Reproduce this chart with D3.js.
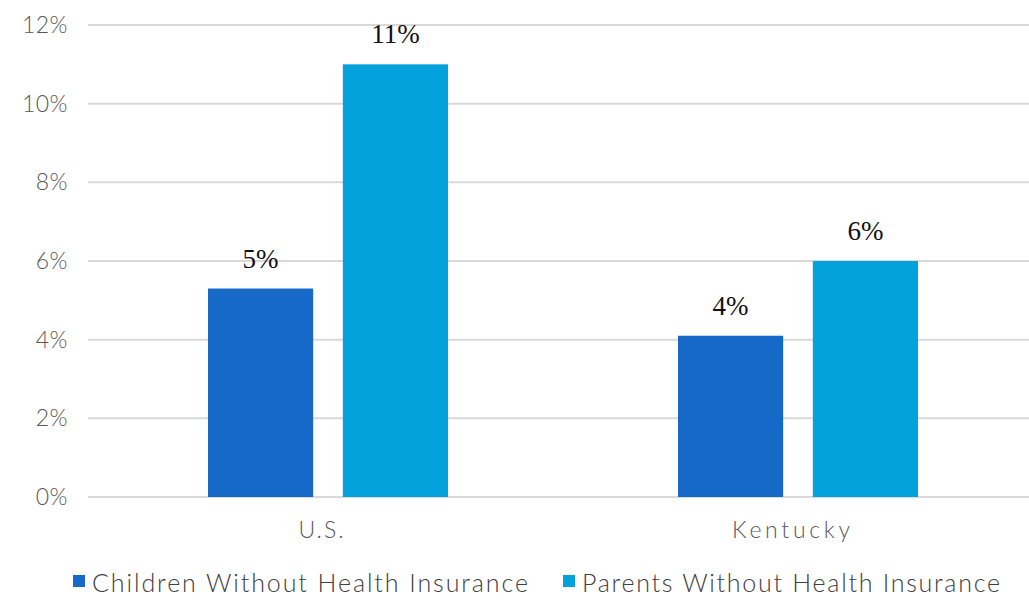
<!DOCTYPE html>
<html><head><meta charset="utf-8">
<script src="https://cdn.jsdelivr.net/npm/d3@7"></script>
<style>body{margin:0;background:#fff}</style>
</head><body>
<svg id="c" width="1029" height="605"></svg>
<script>
const categories = ["U.S.", "Kentucky"];
const seriesNames = ["Children Without Health Insurance", "Parents Without Health Insurance"];
const children = [5.3, 4.1];
const parents = [11.0, 6.0];
const childrenLabels = ["5%", "4%"];
const parentsLabels = ["11%", "6%"];
const yTicks = [0, 2, 4, 6, 8, 10, 12];
const colors = ["#1769c8", "#03a2dc"];

const svg = d3.select("#c");
const m = {l: 93, r: -4, t: 25, b: 108};
const W = 1029, H = 605;
const x0 = d3.scaleBand().domain(categories).range([m.l, W - m.r]).paddingInner(0).paddingOuter(0);
const x1 = d3.scaleBand().domain([0,1]).range([115, 355]).paddingInner(0.22);
const y = d3.scaleLinear().domain([0, 12]).range([H - m.b, m.t]);

const axisFont = "Lato, 'Open Sans', sans-serif";
// gridlines
svg.append("g").selectAll("line").data(yTicks).join("line")
  .attr("x1", 88).attr("x2", W).attr("y1", d => y(d)).attr("y2", d => y(d))
  .attr("stroke", "#d9d9d9").attr("stroke-width", 2);
// y labels
const yAxis = d3.axisLeft(y).tickValues(yTicks).tickFormat(d => d + "%").tickSize(0).tickPadding(0);
const ga = svg.append("g").attr("transform", "translate(68,0)").call(yAxis);
ga.select(".domain").remove();
ga.selectAll("text").attr("font-family", axisFont).attr("font-size", 23).attr("fill", "#595959")
  .attr("font-weight", 300).attr("letter-spacing", 0.5);

const data = categories.map((c, i) => ({c, vals: [children[i], parents[i]], labs: [childrenLabels[i], parentsLabels[i]]}));
const catLen = [45, 118];
const g = svg.append("g");
data.forEach((d, i) => {
  const gx = x0(d.c);
  d.vals.forEach((v, j) => {
    g.append("rect").attr("x", gx + x1(j)).attr("width", x1.bandwidth())
      .attr("y", y(v)).attr("height", y(0) - y(v)).attr("fill", colors[j]);
    g.append("text").attr("x", gx + x1(j) + x1.bandwidth()/2).attr("y", y(v) - 21)
      .attr("text-anchor", "middle").attr("font-family", "'Liberation Serif', 'Times New Roman', serif")
      .attr("font-size", 27).attr("fill", "#111").text(d.labs[j]);
  });
  svg.append("text").attr("x", gx + x0.bandwidth()/2 - 7).attr("y", 538)
    .attr("text-anchor", "middle").attr("font-family", axisFont).attr("font-size", 23)
    .attr("fill", "#595959").attr("font-weight", 300)
    .attr("textLength", catLen[i]).attr("lengthAdjust", "spacing").text(d.c);
});

// legend
const legX = [73, 563];
const legLen = [436, 418];
seriesNames.forEach((s, i) => {
  svg.append("rect").attr("x", legX[i]).attr("y", 575).attr("width", 12).attr("height", 12).attr("fill", colors[i]);
  svg.append("text").attr("x", legX[i] + 19).attr("y", 592).attr("font-family", axisFont)
    .attr("font-size", 25).attr("fill", "#404040").attr("font-weight", 300)
    .attr("textLength", legLen[i]).attr("lengthAdjust", "spacing").text(s);
});
</script>
</body></html>
